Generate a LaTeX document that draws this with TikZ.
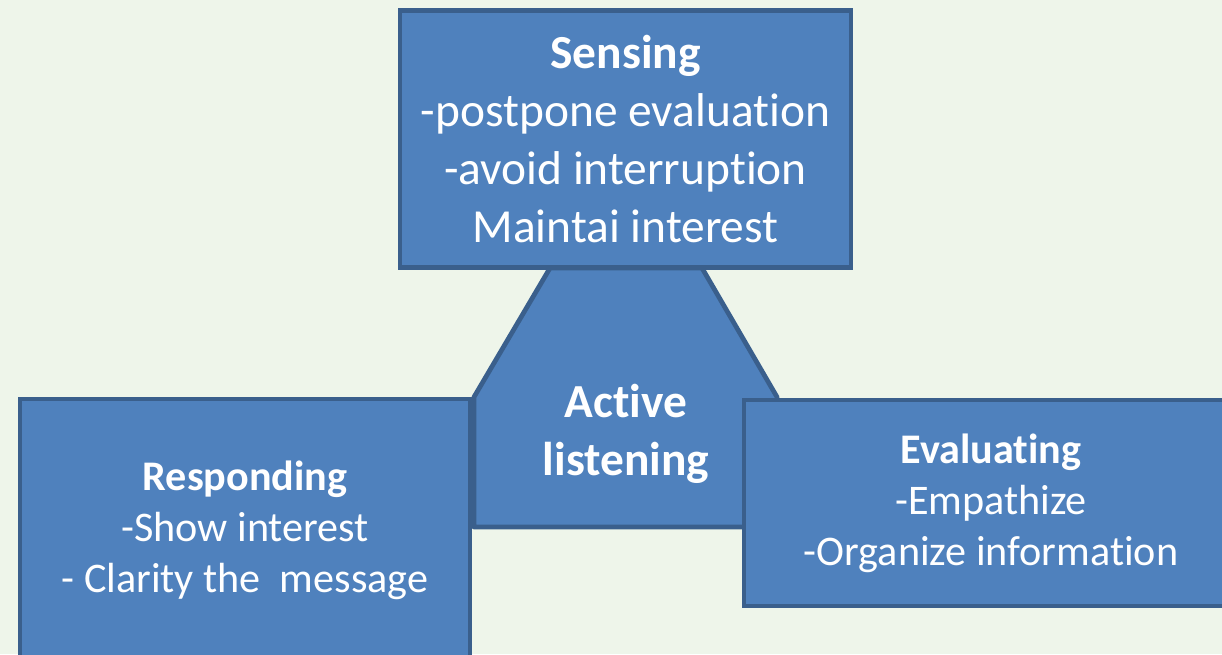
\documentclass[tikz,border=0pt]{standalone}
\usepackage{fontspec}
\setmainfont{Carlito}[Ligatures=NoCommon]
\usetikzlibrary{positioning}

\definecolor{boxblue}{HTML}{4F81BD}
\definecolor{boxedge}{HTML}{3A5F8C}
\definecolor{paper}{HTML}{EEF5EA}

\begin{document}
\begin{tikzpicture}[
        x=0.02cm, y=-0.02cm,
        stage/.style={rectangle, draw=boxedge, fill=boxblue, line width=2.7pt, text=white, align=center, font={\fontsize{27}{33}\selectfont}},
        side/.style={stage, font={\fontsize{24}{29}\selectfont}},
        hub/.style={draw=boxedge, fill=boxblue, line width=2.7pt, line join=round}
    ]
        % Page
        \clip (0,0) rectangle (1222,654);
        \fill[paper] (0,0) rectangle (1222,654);

        % Centre shape
        \draw[hub] (550,268) -- (702,268) -- (777,397) -- (777,527) -- (474,527) -- (474,397) -- cycle;
        \node (active) [text=white, align=center, font={\bfseries\fontsize{27}{33}\selectfont}] at (626,434) {Active\\listening};

        % Stages
        \node (sensing) [stage, minimum width=9.02cm, minimum height=5.14cm] at (625.5,139) {\textbf{Sensing}\\-postpone evaluation\\-avoid interruption\\Maintai interest};
        \node (responding) [side, minimum width=9cm, minimum height=5.24cm] at (245,530) {\textbf{Responding}\\-Show interest\\- Clarity the\ \ message};
        \node (evaluating) [side, minimum width=9.88cm, minimum height=4.12cm] at (991,503) {\textbf{Evaluating}\\-Empathize\\-Organize information};
    \end{tikzpicture}
\end{document}
